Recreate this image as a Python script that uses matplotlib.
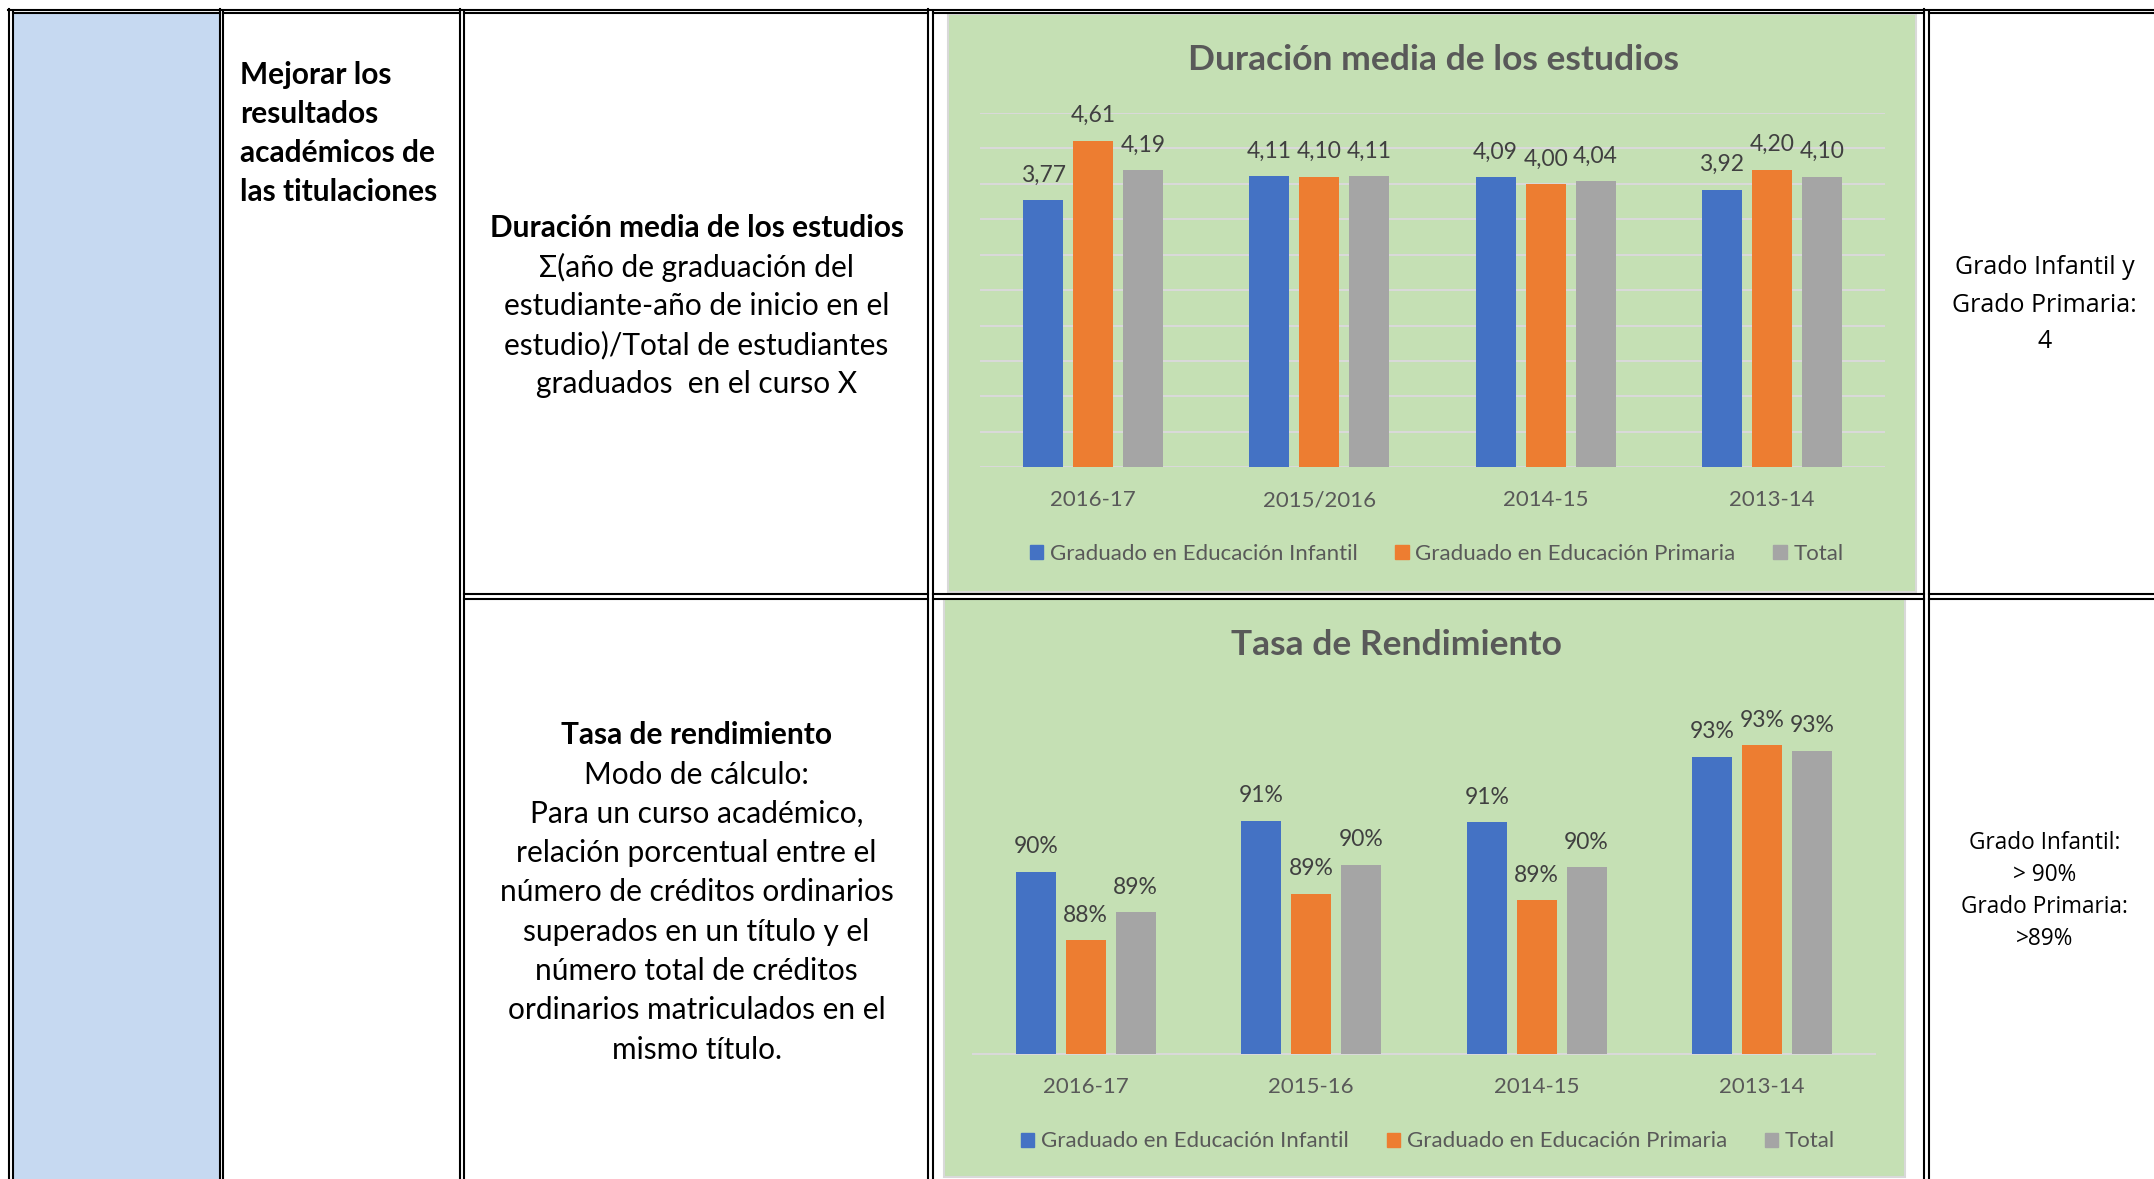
import numpy as np
import matplotlib
matplotlib.use('Agg')
import matplotlib.pyplot as plt
from matplotlib.patches import Rectangle

plt.rcParams['font.family'] = ['Lato', 'DejaVu Sans']

# chart data
cursos_duracion = ['2016-17', '2015/2016', '2014-15', '2013-14']
duracion_infantil = [3.77, 4.11, 4.09, 3.92]
duracion_primaria = [4.61, 4.10, 4.00, 4.20]
duracion_total = [4.19, 4.11, 4.04, 4.10]

cursos_rend = ['2016-17', '2015-16', '2014-15', '2013-14']
rend_infantil = [0.8996, 0.9135, 0.9132, 0.9310]
rend_primaria = [0.8810, 0.8936, 0.8918, 0.9341]
rend_total = [0.8886, 0.9016, 0.9009, 0.9327]

series_names = ['Graduado en Educación Infantil', 'Graduado en Educación Primaria', 'Total']
colors = ['#4472C4', '#ED7D31', '#A5A5A5']

# table texts
objetivo = ['Mejorar los', 'resultados', 'académicos de', 'las titulaciones']
ind1_title = 'Duración media de los estudios'
ind1_lines = ['Σ(año de graduación del', 'estudiante-año de inicio en el',
              'estudio)/Total de estudiantes', 'graduados  en el curso X']
ind2_title = 'Tasa de rendimiento'
ind2_lines = ['Modo de cálculo:', 'Para un curso académico,', 'relación porcentual entre el',
              'número de créditos ordinarios', 'superados en un título y el',
              'número total de créditos', 'ordinarios matriculados en el', 'mismo título.']
meta1 = ['Grado Infantil y', 'Grado Primaria:', '4']
meta2 = ['Grado Infantil:', '> 90%', 'Grado Primaria:', '>89%']

W, H = 2154, 1179
fig = plt.figure(figsize=(W / 100, H / 100), dpi=100)
bg = fig.add_axes([0, 0, 1, 1])
bg.set_xlim(0, W)
bg.set_ylim(H, 0)
bg.axis('off')

# cell fills and chart areas
bg.add_patch(Rectangle((14, 14), 205, H, facecolor='#C6D9F1', edgecolor='none'))
bg.add_patch(Rectangle((948, 14), 968, 578, facecolor='#C5E0B4', edgecolor='#D9D9D9', lw=1.5))
bg.add_patch(Rectangle((944, 599), 961, 578, facecolor='#C5E0B4', edgecolor='#D9D9D9', lw=1.5))

# double borders
lw = 1.5
vpairs = [(8.5, 12.8), (219.8, 223.2), (459.8, 463.8), (928.3, 932.5), (1924.3, 1928.5)]
for a, b in vpairs:
    bg.plot([a, a], [9, H], color='black', lw=lw)
    bg.plot([b, b], [12, H], color='black', lw=lw)
bg.plot([7.5, W], [10, 10], color='black', lw=lw)
edges = [p[1] for p in vpairs]
starts = [p[0] for p in vpairs[1:]] + [W]
for a, b in zip(edges, starts):
    bg.plot([a, b], [13.2, 13.2], color='black', lw=lw)
for a, b in zip(edges[2:], starts[2:]):
    bg.plot([a, b], [593.5, 593.5], color='black', lw=lw)
    bg.plot([a, b], [598.5, 598.5], color='black', lw=lw)

# table text
for i, line in enumerate(objetivo):
    bg.text(240, 74.6 + 39 * i, line, ha='left', va='center', fontsize=21.5, fontweight='bold')
bg.text(696.5, 228, ind1_title, ha='center', va='center', fontsize=21.5, fontweight='bold')
for i, line in enumerate(ind1_lines):
    bg.text(696.5, 267 + 39 * i, line, ha='center', va='center', fontsize=21.5)
bg.text(696.5, 734.7, ind2_title, ha='center', va='center', fontsize=21.5, fontweight='bold')
for i, line in enumerate(ind2_lines):
    bg.text(696.5, 774.5 + 39.3 * i, line, ha='center', va='center', fontsize=21.5)
for i, line in enumerate(meta1):
    bg.text(2044.5, 268 + 37 * i, line, ha='center', va='center', fontsize=18,
            family=['Open Sans', 'DejaVu Sans'])
for i, line in enumerate(meta2):
    bg.text(2044.5, 842.8 + 32.1 * i, line, ha='center', va='center', fontsize=16.3,
            family=['Open Sans', 'DejaVu Sans'])


def px_axes(x0, x1, y0, y1):
    return fig.add_axes([x0 / W, 1 - y1 / H, (x1 - x0) / W, (y1 - y0) / H])


def bar_chart(ax, cats, series, fmt):
    x = np.arange(len(cats))
    for i, (vals, c) in enumerate(zip(series, colors)):
        bars = ax.bar(x + (i - 1) * 0.221, vals, width=0.177, color=c, zorder=3)
        for b, v in zip(bars, vals):
            ax.annotate(fmt(v), (b.get_x() + b.get_width() / 2, v), xytext=(0, 18),
                        textcoords='offset points', ha='center', va='center',
                        fontsize=16.5, color='#404040', zorder=4)
    ax.set_xlim(-0.5, len(cats) - 0.5)
    ax.set_xticks(x)
    ax.set_xticklabels(cats, fontsize=16, color='#595959')
    ax.tick_params(length=0, pad=16.5)
    ax.set_facecolor('none')
    for s in ax.spines.values():
        s.set_visible(False)


ax1 = px_axes(980, 1885, 113, 467.3)
bar_chart(ax1, cursos_duracion, [duracion_infantil, duracion_primaria, duracion_total],
          lambda v: f'{v:.2f}'.replace('.', ','))
ax1.set_ylim(0, 5)
ax1.set_yticks(np.arange(0, 5.01, 0.5))
ax1.set_yticklabels([])
ax1.yaxis.grid(True, color='#D9D9D9', lw=1.5)
ax1.set_axisbelow(True)

ax2 = px_axes(973, 1875, 723.8, 1053.6)
bar_chart(ax2, cursos_rend, [rend_infantil, rend_primaria, rend_total],
          lambda v: f'{v * 100:.0f}%')
ax2.set_ylim(0.85, 0.94)
ax2.set_yticks([])
ax2.spines['bottom'].set_visible(True)
ax2.spines['bottom'].set_color('#D9D9D9')
ax2.spines['bottom'].set_linewidth(1.5)

bg.text(1433, 60, 'Duración media de los estudios', ha='center', va='center',
        fontsize=25.5, fontweight='bold', color='#595959')
bg.text(1396, 645, 'Tasa de Rendimiento', ha='center', va='center',
        fontsize=25.5, fontweight='bold', color='#595959')

handles = [Rectangle((0, 0), 1, 1, color=c) for c in colors]
for cx, cy in [(1436.5, 554), (1428, 1141.4)]:
    fig.legend(handles, series_names, loc='center', bbox_to_anchor=(cx / W, 1 - cy / H),
               ncol=3, frameon=False, fontsize=16, handlelength=0.6, handleheight=0.6,
               handletextpad=0.3, columnspacing=1.7, labelcolor='#595959')

fig.savefig('out.png', dpi=100)
